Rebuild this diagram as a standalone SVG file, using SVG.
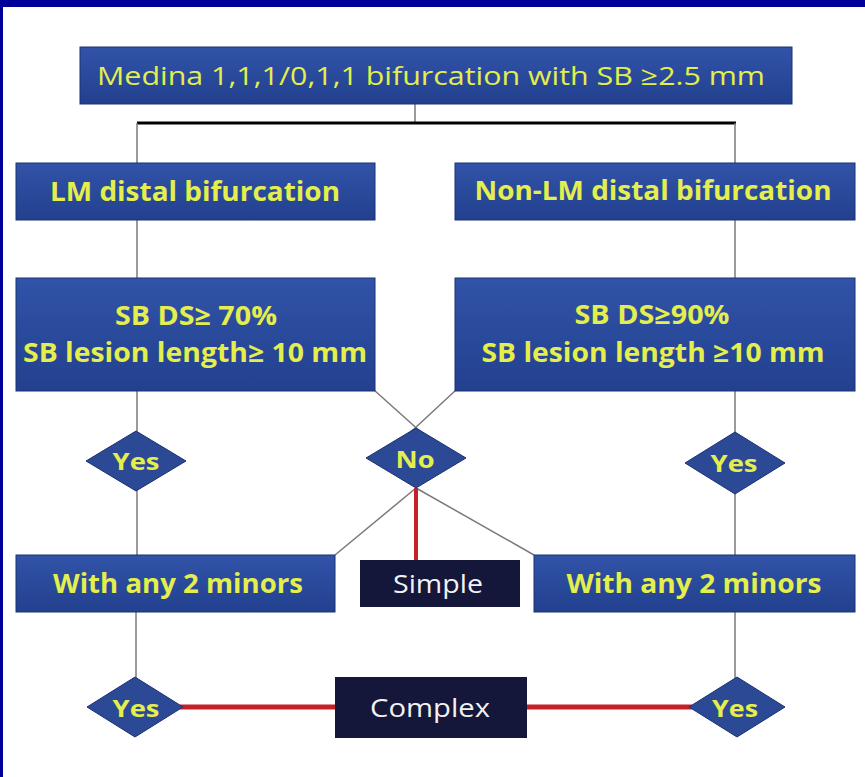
<svg xmlns="http://www.w3.org/2000/svg" width="865" height="777" viewBox="0 0 865 777">
<defs>
<linearGradient id="boxGrad" x1="0" y1="0" x2="0" y2="1">
<stop offset="0" stop-color="#3153a8"/>
<stop offset="1" stop-color="#22408e"/>
</linearGradient>
<style>
.box{fill:url(#boxGrad);stroke:#1b3272;stroke-width:1}
.dia{fill:#2b4995;stroke:#1b3272;stroke-width:1}
.dark{fill:#14163a}
.yt{fill:#e4ee4c;font-family:"Open Sans","Liberation Sans",sans-serif;font-weight:bold;font-size:26.5px;text-anchor:middle}
.ys{fill:#e4ee4c;font-family:"Open Sans","Liberation Sans",sans-serif;font-weight:bold;font-size:24px;text-anchor:middle}
.yr{fill:#e4ee4c;font-family:"Open Sans","Liberation Sans",sans-serif;font-weight:normal;font-size:26px;text-anchor:middle}
.wt{fill:#f2f2f2;font-family:"Open Sans","Liberation Sans",sans-serif;font-size:26px;text-anchor:middle}
.gl{stroke:#7a7a7a;stroke-width:1.5;fill:none}
.bl{stroke:#000;stroke-width:3;fill:none}
.rl{stroke:#c42129;fill:none}
</style>
</defs>
<rect x="0" y="0" width="865" height="777" fill="#ffffff"/>
<rect x="0" y="0" width="865" height="7" fill="#000099"/>
<rect x="0" y="0" width="3" height="777" fill="#000099"/>

<g id="connectors">
<line class="gl" x1="415" y1="104" x2="415" y2="123"/>
<line class="bl" x1="137" y1="123" x2="736" y2="123"/>
<line class="gl" x1="137" y1="123" x2="137" y2="163"/>
<line class="gl" x1="735" y1="123" x2="735" y2="163"/>
<line class="gl" x1="137" y1="220" x2="137" y2="278"/>
<line class="gl" x1="735" y1="220" x2="735" y2="278"/>
<line class="gl" x1="137" y1="391" x2="137" y2="440"/>
<line class="gl" x1="735" y1="391" x2="735" y2="440"/>
<line class="gl" x1="374" y1="390" x2="432" y2="442"/>
<line class="gl" x1="456" y1="390" x2="400" y2="442"/>
<line class="gl" x1="137" y1="480" x2="137" y2="555"/>
<line class="gl" x1="735" y1="480" x2="735" y2="555"/>
<line class="gl" x1="416" y1="488" x2="335" y2="555"/>
<line class="gl" x1="416" y1="488" x2="534" y2="555"/>
<line class="rl" stroke-width="4" x1="416" y1="488" x2="416" y2="560"/>
<line class="gl" x1="136" y1="612" x2="136" y2="680"/>
<line class="gl" x1="735" y1="612" x2="735" y2="680"/>
<line class="rl" stroke-width="5" x1="180" y1="707" x2="335" y2="707"/>
<line class="rl" stroke-width="5" x1="527" y1="707" x2="692" y2="707"/>
</g>

<g id="top">
<rect class="box" x="80" y="47" width="712" height="57"/>
<text class="yr" x="431" y="85" textLength="668" lengthAdjust="spacingAndGlyphs">Medina 1,1,1/0,1,1 bifurcation with SB ≥2.5 mm</text>
</g>

<g id="lm">
<rect class="box" x="16" y="163" width="359" height="57"/>
<text class="yt" x="195" y="201" textLength="290" lengthAdjust="spacingAndGlyphs">LM distal bifurcation</text>
</g>

<g id="nonlm">
<rect class="box" x="455" y="163" width="400" height="57"/>
<text class="yt" x="653" y="200" textLength="357" lengthAdjust="spacingAndGlyphs">Non-LM distal bifurcation</text>
</g>

<g id="sb-left">
<rect class="box" x="16" y="278" width="359" height="113"/>
<text class="yt" x="196" y="325" textLength="162" lengthAdjust="spacingAndGlyphs">SB DS≥ 70%</text>
<text class="yt" x="195" y="362" textLength="344" lengthAdjust="spacingAndGlyphs">SB lesion length≥ 10 mm</text>
</g>

<g id="sb-right">
<rect class="box" x="455" y="278" width="400" height="113"/>
<text class="yt" x="652" y="324" textLength="155" lengthAdjust="spacingAndGlyphs">SB DS≥90%</text>
<text class="yt" x="653" y="362" textLength="343" lengthAdjust="spacingAndGlyphs">SB lesion length ≥10 mm</text>
</g>

<g id="yes-left">
<polygon class="dia" points="136,431 186,461 136,491 86,461"/>
<text class="ys" x="136" y="470" textLength="47" lengthAdjust="spacingAndGlyphs">Yes</text>
</g>

<g id="no">
<polygon class="dia" points="416,428 466,458 416,488 366,458"/>
<text class="ys" x="415" y="468" textLength="39" lengthAdjust="spacingAndGlyphs">No</text>
</g>

<g id="yes-right">
<polygon class="dia" points="735,432 785,463 735,494 685,463"/>
<text class="ys" x="734" y="472" textLength="47" lengthAdjust="spacingAndGlyphs">Yes</text>
</g>

<g id="minors-left">
<rect class="box" x="16" y="555" width="319" height="57"/>
<text class="yt" x="178" y="593" textLength="250" lengthAdjust="spacingAndGlyphs">With any 2 minors</text>
</g>

<g id="simple">
<rect class="dark" x="360" y="560" width="160" height="47"/>
<text class="wt" x="438" y="593" textLength="90" lengthAdjust="spacingAndGlyphs">Simple</text>
</g>

<g id="minors-right">
<rect class="box" x="534" y="555" width="321" height="57"/>
<text class="yt" x="694" y="593" textLength="255" lengthAdjust="spacingAndGlyphs">With any 2 minors</text>
</g>

<g id="yes-bottom-left">
<polygon class="dia" points="135,677 183,707 135,737 87,707"/>
<text class="ys" x="136" y="717" textLength="47" lengthAdjust="spacingAndGlyphs">Yes</text>
</g>

<g id="complex">
<rect class="dark" x="335" y="677" width="192" height="61"/>
<text class="wt" x="430" y="717" textLength="120" lengthAdjust="spacingAndGlyphs">Complex</text>
</g>

<g id="yes-bottom-right">
<polygon class="dia" points="737,677 785,707 737,737 689,707"/>
<text class="ys" x="735" y="717" textLength="46" lengthAdjust="spacingAndGlyphs">Yes</text>
</g>
</svg>
